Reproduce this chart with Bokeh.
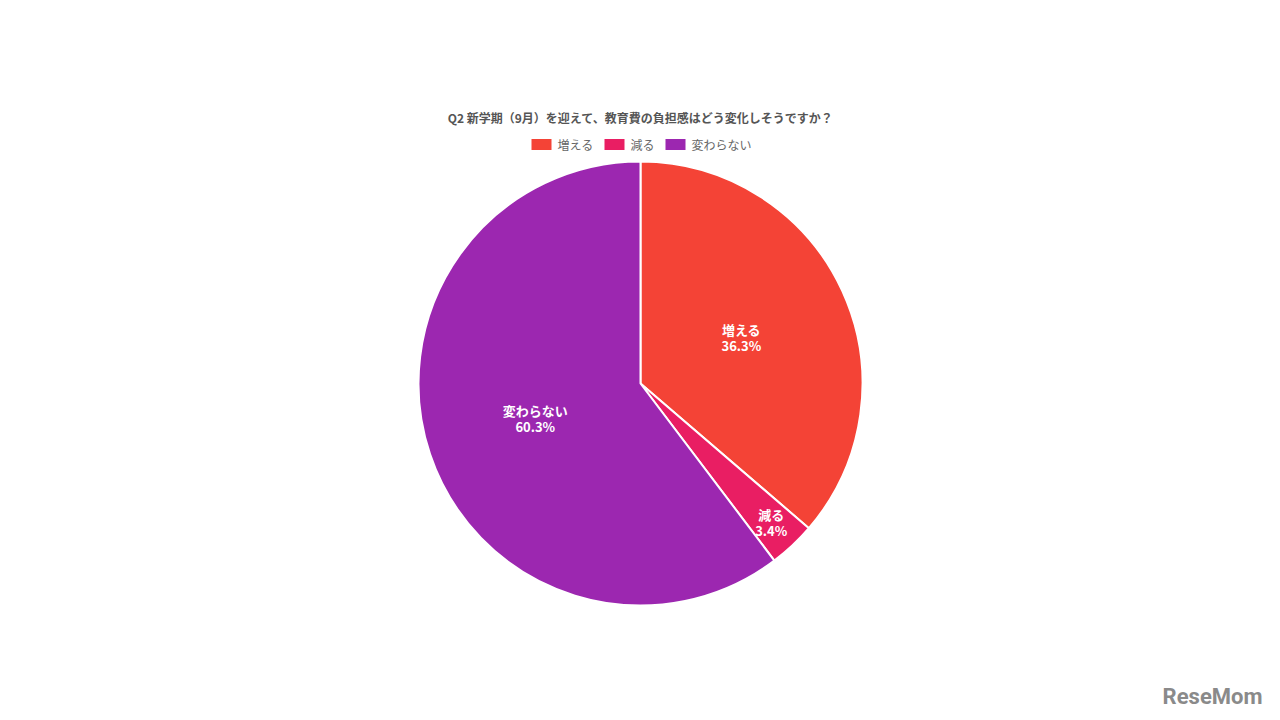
import numpy as np
from bokeh.plotting import figure
from bokeh.models import ColumnDataSource, Range1d
from bokeh.core.properties import value
from bokeh.embed import file_html
from bokeh.resources import INLINE

# ---- data ----
categories = ["増える", "減る", "変わらない"]
percents = [36.3, 3.4, 60.3]
colors = ["#F44336", "#E91E63", "#9C27B0"]
title_text = "Q2 新学期（9月）を迎えて、教育費の負担感はどう変化しそうですか？"

W, H = 1264, 712
CX, CY, R = 640, 329, 222
FONT = "Noto Sans CJK JP"

vals = np.array(percents)
frac = vals / vals.sum()
cum = np.concatenate([[0], np.cumsum(frac)])
start = np.pi / 2 - cum[:-1] * 2 * np.pi
end = np.pi / 2 - cum[1:] * 2 * np.pi
mid = (start + end) / 2
lr = np.where(frac < 0.05, 0.86, 0.5) * R
pct_labels = [f"{p}%" for p in percents]

src = ColumnDataSource(dict(cat=categories, start=start, end=end, color=colors,
                            lx=CX + lr * np.cos(mid), ly=CY + lr * np.sin(mid),
                            pct=pct_labels))

p = figure(width=W, height=H, output_backend="svg", toolbar_location=None,
           x_range=Range1d(0, W), y_range=Range1d(0, H), min_border=0)
p.axis.visible = False
p.grid.visible = False
p.outline_line_color = None

p.wedge(x=CX, y=CY, radius=R, radius_units="screen", start_angle="start",
        end_angle="end", direction="clock", fill_color="color",
        line_color="white", line_width=2, source=src)

p.text(x="lx", y="ly", text="cat", source=src, text_align="center",
       text_baseline="middle", text_color="white", text_font=value(FONT),
       text_font_style="bold", text_font_size="13px", y_offset=-8)
p.text(x="lx", y="ly", text="pct", source=src, text_align="center",
       text_baseline="middle", text_color="white", text_font=value(FONT),
       text_font_style="bold", text_font_size="13px", y_offset=8)

p.text(x=[640], y=[595], text=[title_text], text_align="center",
       text_baseline="middle", text_color="#555555", text_font=value(FONT),
       text_font_style="bold", text_font_size="12px")

# legend (manual)
LEG_Y = 568
leg_x = [531, 604, 665]
leg = ColumnDataSource(dict(x=[x + 10 for x in leg_x], tx=[x + 26 for x in leg_x],
                            y=[LEG_Y] * 3, color=colors, label=categories))
p.rect(x="x", y="y", width=20, height=11, width_units="screen",
       height_units="screen", fill_color="color", line_color=None, source=leg)
p.text(x="tx", y="y", text="label", source=leg, text_baseline="middle",
       text_color="#666666", text_font=value(FONT), text_font_size="12px")

p.text(x=[1262], y=[16], text=["ReseMom"], text_align="right",
       text_baseline="alphabetic", text_color="#8a8a8a", text_font=value("Roboto"),
       text_font_style="bold", text_font_size="22px")

open("out.html", "w").write(file_html(p, INLINE))
